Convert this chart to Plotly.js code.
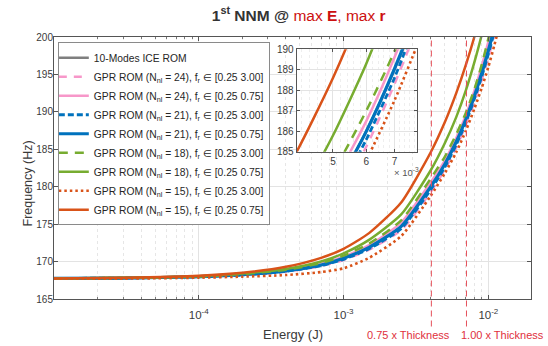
<!DOCTYPE html>
<html><head><meta charset="utf-8">
<script src="https://cdn.plot.ly/plotly-3.0.1.min.js"></script>
<style>html,body{margin:0;padding:0;background:#fff}#chart{width:548px;height:346px}</style>
</head><body><div id="chart"></div>
<script>
// Energy grid (J)
const energy = [1e-5, 3e-5, 1e-4, 2e-4, 4e-4, 7e-4, 1e-3, 1.5e-3, 2.5e-3, 4e-3, 5e-3, 6e-3, 7e-3, 8e-3, 9e-3, 1e-2, 1.1e-2, 1.2e-2];
// Frequencies (Hz) per model
const iceRom      = [167.75,167.8,167.98,168.25,168.75,169.55,170.45,171.9,174.7,180.0,183.0,186.0,189.0,192.0,195.1,198.1,201.2,204.3];
const gpr24wide   = [167.75,167.8,167.96,168.2,168.65,169.4,170.2,171.6,174.2,179.3,182.3,185.25,188.3,191.3,194.3,197.3,200.3,203.3];
const gpr24narrow = [167.75,167.82,168.0,168.3,168.85,169.7,170.65,172.2,175.2,180.6,183.5,186.5,189.6,192.8,196.1,199.4,202.8,206.2];
const gpr21wide   = [167.75,167.8,167.97,168.22,168.7,169.45,170.3,171.7,174.4,179.6,182.6,185.6,188.6,191.7,194.7,197.7,200.7,203.7];
const gpr21narrow = [167.75,167.8,167.98,168.25,168.75,169.55,170.45,171.9,174.7,180.0,183.0,186.0,189.05,192.1,195.2,198.2,201.3,204.4];
const gpr18wide   = [167.75,167.82,168.0,168.35,168.9,169.8,170.8,172.4,175.5,181.1,184.0,187.0,189.9,193.0,196.3,199.8,203.3,206.8];
const gpr18narrow = [167.75,167.83,168.05,168.4,169.0,170.0,171.1,172.9,176.3,182.2,185.8,189.3,192.9,196.6,200.3,204.0,207.7,211.4];
const gpr15wide   = [167.7,167.72,167.85,167.98,168.2,168.6,169.1,170.5,173.4,178.8,181.8,184.6,187.5,190.4,193.2,196.0,198.9,201.8];
const gpr15narrow = [167.75,167.85,168.1,168.5,169.3,170.5,171.7,173.8,177.9,184.6,188.6,192.5,196.3,200.0,203.7,207.3,211.0,214.6];

const seriesNames = [
  '10-Modes ICE ROM',
  'GPR ROM (N<sub>nl</sub> = 24), f<sub>r</sub> ∈ [0.25 3.00]',
  'GPR ROM (N<sub>nl</sub> = 24), f<sub>r</sub> ∈ [0.25 0.75]',
  'GPR ROM (N<sub>nl</sub> = 21), f<sub>r</sub> ∈ [0.25 3.00]',
  'GPR ROM (N<sub>nl</sub> = 21), f<sub>r</sub> ∈ [0.25 0.75]',
  'GPR ROM (N<sub>nl</sub> = 18), f<sub>r</sub> ∈ [0.25 3.00]',
  'GPR ROM (N<sub>nl</sub> = 18), f<sub>r</sub> ∈ [0.25 0.75]',
  'GPR ROM (N<sub>nl</sub> = 15), f<sub>r</sub> ∈ [0.25 3.00]',
  'GPR ROM (N<sub>nl</sub> = 15), f<sub>r</sub> ∈ [0.25 0.75]'
];
const seriesData = [iceRom, gpr24wide, gpr24narrow, gpr21wide, gpr21narrow, gpr18wide, gpr18narrow, gpr15wide, gpr15narrow];

// Thickness reference energies (J) and labels
const thicknessEnergy = [4.04e-3, 7.06e-3];
const thicknessLabels = ['0.75 x Thickness', '1.00 x Thickness'];

// x tick labels
const mainTickVals = [1e-4, 1e-3, 1e-2];
const mainTickText = ['10<sup>-4</sup>', '10<sup>-3</sup>', '10<sup>-2</sup>'];
const insetTickVals = [5e-3, 6e-3, 7e-3];
const insetTickText = ['5', '6', '7'];

const styles = [
  {color:'#7f7f7f', width:2.5, dash:'solid'},
  {color:'#f797c9', width:2.5, dash:'8px,7px'},
  {color:'#f797c9', width:2.5, dash:'solid'},
  {color:'#0072bd', width:2.8, dash:'6px,3px'},
  {color:'#0072bd', width:3.2, dash:'solid'},
  {color:'#77ac30', width:2.5, dash:'9px,7px'},
  {color:'#77ac30', width:2.5, dash:'solid'},
  {color:'#d95319', width:2.6, dash:'2.5px,3px'},
  {color:'#d95319', width:2.5, dash:'solid'}
];

const traces = [];
seriesData.forEach((ys, i) => {
  traces.push({x: energy, y: ys, name: seriesNames[i], type:'scatter', mode:'lines',
    line: Object.assign({shape:'spline', smoothing:0.6}, styles[i]), xaxis:'x', yaxis:'y'});
});
seriesData.forEach((ys, i) => {
  traces.push({x: energy, y: ys, name: seriesNames[i], type:'scatter', mode:'lines', showlegend:false,
    line: Object.assign({shape:'spline', smoothing:0.6}, styles[i]), xaxis:'x2', yaxis:'y2'});
});
// empty carrier for the y tick-label axis
traces.push({x: [], y: [], type:'scatter', mode:'lines', showlegend:false, xaxis:'x', yaxis:'y3', hoverinfo:'skip'});

// minor grid values
const minorMain = [];
for (let d = -5; d <= -2; d++) for (let k = 2; k <= 9; k++) minorMain.push(k * Math.pow(10, d));
const minorInset = [];
for (let v = 4.2; v < 8; v += 0.2) minorInset.push(+(v.toFixed(1)) * 1e-3);

const FONT = 'Liberation Sans, Arial, Helvetica, sans-serif';
const AX = '#3a3a3a';
const RED = '#e0303c';

const layout = {
  width: 548, height: 346,
  margin: {l:54, r:17, t:37, b:47},
  paper_bgcolor:'#fff', plot_bgcolor:'#fff',
  font: {family: FONT, size: 11, color: AX},
  showlegend: true,
  title: {
    text: '<b>1<sup>st</sup> NNM @ </b><span style="color:#cc1010">max <b>E</b>, max <b>r</b></span>',
    font: {family: FONT, size: 15.5, color: '#333333'},
    x: 0.513, xref: 'paper', xanchor: 'center', y: 0.955, yanchor: 'middle'
  },
  xaxis: {
    type:'log', range:[-5, Math.log10(0.0197)],
    tickmode:'array', tickvals: mainTickVals, ticktext: mainTickText,
    ticks:'inside', ticklen:4, tickcolor:'#555', showline:true, linecolor:'#555', linewidth:1, mirror:'ticks',
    showgrid:true, gridcolor:'#e3e3e3', gridwidth:1, ticklabelstandoff:5,
    minor: {tickmode:'array', tickvals: minorMain, ticks:'inside', ticklen:2, tickcolor:'#777', showgrid:true, gridcolor:'#e6e6e6', griddash:'dot', gridwidth:1},
    tickfont:{size:11.5, color:AX}, zeroline:false, domain:[0,1], anchor:'y'
  },
  yaxis: {
    range:[165, 200], dtick:5, tick0:165, showticklabels:false,
    ticks:'inside', ticklen:4, tickcolor:'#555', showline:true, linecolor:'#555', linewidth:1, mirror:'ticks',
    showgrid:true, gridcolor:'#e3e3e3', gridwidth:1,
    zeroline:false, domain:[0,1], anchor:'x'
  },
  yaxis3: {
    range:[165, 200], dtick:5, tick0:165, overlaying:'y', anchor:'free', position:0, side:'left',
    showline:false, showgrid:false, ticks:'', zeroline:false, ticklabelstandoff:1,
    tickfont:{size:10, color:AX}
  },
  xaxis2: {
    type:'log', range:[Math.log10(0.0041), Math.log10(0.0079)],
    domain:[0.5088, 0.760], anchor:'y2',
    tickmode:'array', tickvals: insetTickVals, ticktext: insetTickText,
    ticks:'inside', ticklen:3, tickcolor:'#555', showline:true, linecolor:'#555', linewidth:1, mirror:'ticks',
    showgrid:true, gridcolor:'#e3e3e3',
    minor:{tickmode:'array', tickvals: minorInset, showgrid:true, gridcolor:'#eeeeee', griddash:'dot'},
    tickfont:{size:10, color:AX}, zeroline:false
  },
  yaxis2: {
    range:[185, 190], dtick:1, tick0:185,
    domain:[0.5616, 0.953], anchor:'x2',
    ticks:'inside', ticklen:3, tickcolor:'#555', showline:true, linecolor:'#555', linewidth:1, mirror:'ticks',
    showgrid:true, gridcolor:'#e3e3e3',
    tickfont:{size:10, color:AX}, zeroline:false
  },
  legend: {
    x: 0.008, y: 0.98, xanchor:'left', yanchor:'top',
    bgcolor:'#ffffff', bordercolor:'#8a8a8a', borderwidth:1,
    font:{family: FONT, size:10.3, color:'#262626'},
    itemwidth:30, tracegroupgap:0, indentation:-5
  },
  shapes: thicknessEnergy.map(e => ({
    type:'line', xref:'x', yref:'paper', x0:e, x1:e, y0:-0.105, y1:1,
    line:{color:'#e5505a', width:1, dash:'6px,4px'}, layer:'above'
  })),
  annotations: [
    {text:'Frequency (Hz)', xref:'paper', yref:'paper', x:-0.055, y:0.44, textangle:-90, showarrow:false,
     font:{family:FONT, size:12.5, color:AX}, xanchor:'center', yanchor:'middle'},
    {text:'Energy (J)', xref:'paper', yref:'paper', x:0.5, y:-0.134, showarrow:false,
     font:{family:FONT, size:13, color:AX}, xanchor:'center', yanchor:'middle'},
    {text:thicknessLabels[0], xref:'paper', yref:'paper', x:(408-54)/477, y:-0.137, showarrow:false,
     font:{family:FONT, size:11, color:RED}, xanchor:'center', yanchor:'middle'},
    {text:thicknessLabels[1], xref:'paper', yref:'paper', x:(502.7-54)/477, y:-0.137, showarrow:false,
     font:{family:FONT, size:11, color:RED}, xanchor:'center', yanchor:'middle'},
    {text:'× 10<sup>-3</sup>', xref:'paper', yref:'paper', x:0.739, y:0.484, showarrow:false,
     font:{family:FONT, size:9.5, color:'#555'}, xanchor:'center', yanchor:'middle'}
  ]
};

Plotly.newPlot('chart', traces, layout, {staticPlot:true, displayModeBar:false});
</script></body></html>
